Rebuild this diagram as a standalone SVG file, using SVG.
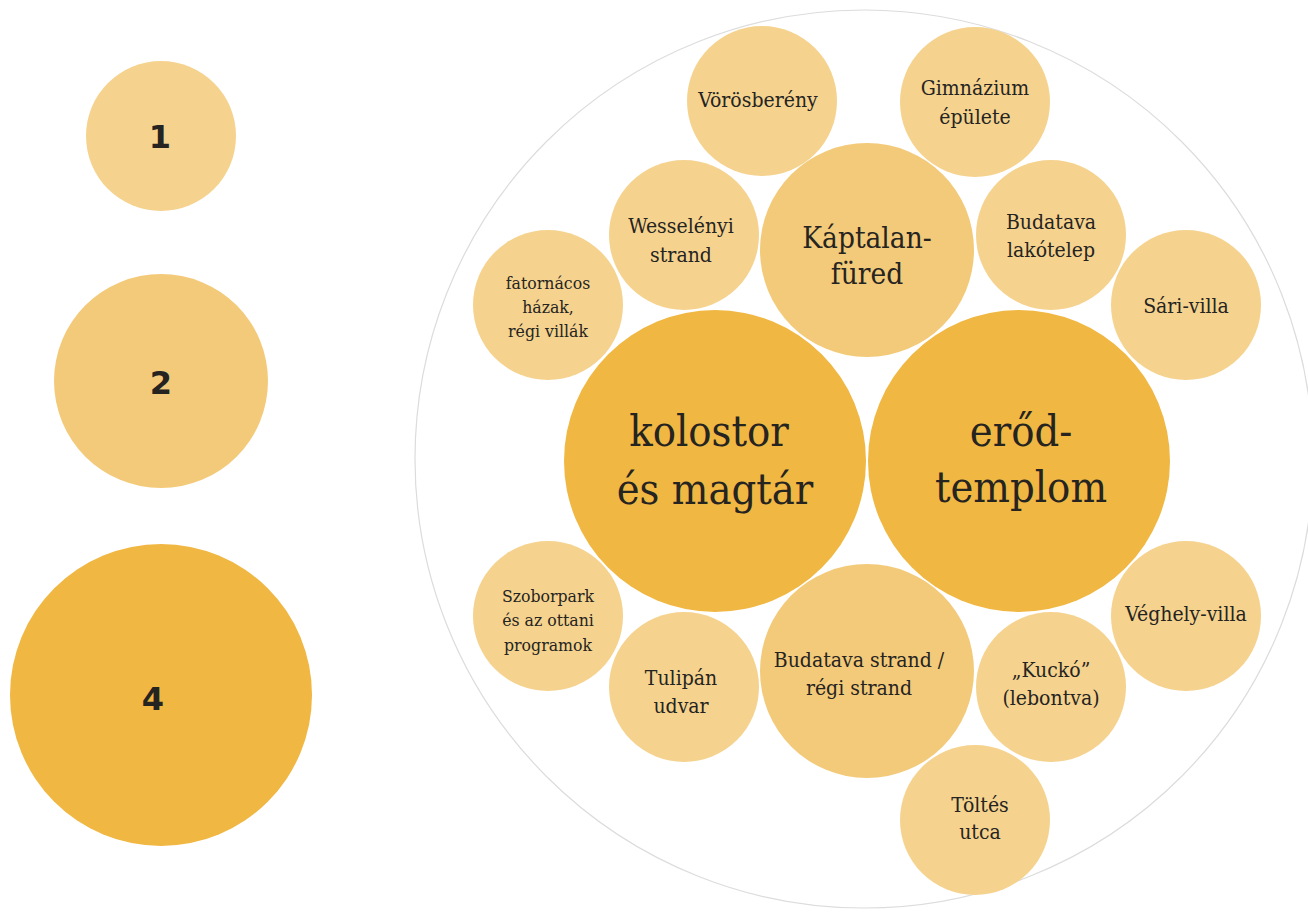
<svg xmlns="http://www.w3.org/2000/svg" width="1308" height="912" viewBox="0 0 1308 912">
<style>
.l{fill:#F5D38F}
.m{fill:#F3CA79}
.d{fill:#F0B742}
text{font-family:"DejaVu Serif","Liberation Serif",serif;font-stretch:condensed;fill:#262421;text-anchor:middle}
.s{font-size:21px}
.xs{font-size:17.5px}
.md{font-size:29.5px}
.lg{font-size:43px}
.n{font-family:"DejaVu Sans","Liberation Sans",sans-serif;font-stretch:normal;font-weight:bold;font-size:32px}
</style>
<rect width="1308" height="912" fill="#ffffff"/>
<g id="legend">
<g id="leg1"><circle class="l" cx="161" cy="136" r="75"/><text class="n" x="160" y="148">1</text></g>
<g id="leg2"><circle class="m" cx="161" cy="381" r="107"/><text class="n" x="161" y="394">2</text></g>
<g id="leg4"><circle class="d" cx="161" cy="695" r="151"/><text class="n" x="153" y="710">4</text></g>
</g>
<circle id="outer" cx="864" cy="459" r="449" fill="none" stroke="#dcdcdc" stroke-width="1.2"/>
<g id="connectors"></g>
<g id="kolostor"><circle class="d" cx="715" cy="461" r="151"/><text class="lg" x="709" y="446">kolostor</text><text class="lg" x="715" y="504">és magtár</text></g>
<g id="erodtemplom"><circle class="d" cx="1019" cy="461" r="151"/><text class="lg" x="1021" y="446">erőd-</text><text class="lg" x="1021" y="502">templom</text></g>
<g id="kaptalanfured"><circle class="m" cx="867" cy="250" r="107"/><text class="md" x="867" y="248">Káptalan-</text><text class="md" x="867" y="284">füred</text></g>
<g id="budatavastrand"><circle class="m" cx="867" cy="671" r="107"/><text class="s" x="859" y="667">Budatava strand /</text><text class="s" x="859" y="695">régi strand</text></g>
<g id="vorosbereny"><circle class="l" cx="762" cy="101" r="75"/><text class="s" x="758" y="107">Vörösberény</text></g>
<g id="gimnazium"><circle class="l" cx="975" cy="102" r="75"/><text class="s" x="975" y="95">Gimnázium</text><text class="s" x="975" y="124">épülete</text></g>
<g id="wesselenyi"><circle class="l" cx="684" cy="235" r="75"/><text class="s" x="681" y="233">Wesselényi</text><text class="s" x="681" y="262">strand</text></g>
<g id="lakotelep"><circle class="l" cx="1051" cy="235" r="75"/><text class="s" x="1051" y="229">Budatava</text><text class="s" x="1051" y="257">lakótelep</text></g>
<g id="fatornacos"><circle class="l" cx="548" cy="305" r="75"/><text class="xs" x="548" y="289">fatornácos</text><text class="xs" x="548" y="313">házak,</text><text class="xs" x="548" y="337">régi villák</text></g>
<g id="sarivilla"><circle class="l" cx="1186" cy="305" r="75"/><text class="s" x="1186" y="313">Sári-villa</text></g>
<g id="szoborpark"><circle class="l" cx="548" cy="616" r="75"/><text class="xs" x="548" y="602">Szoborpark</text><text class="xs" x="548" y="626">és az ottani</text><text class="xs" x="548" y="651">programok</text></g>
<g id="veghelyvilla"><circle class="l" cx="1186" cy="616" r="75"/><text class="s" x="1186" y="621">Véghely-villa</text></g>
<g id="tulipan"><circle class="l" cx="684" cy="687" r="75"/><text class="s" x="681" y="685">Tulipán</text><text class="s" x="681" y="713">udvar</text></g>
<g id="kucko"><circle class="l" cx="1051" cy="687" r="75"/><text class="s" x="1051" y="677">„Kuckó”</text><text class="s" x="1051" y="705">(lebontva)</text></g>
<g id="toltes"><circle class="l" cx="975" cy="820" r="75"/><text class="s" x="980" y="812">Töltés</text><text class="s" x="980" y="839">utca</text></g>
</svg>
